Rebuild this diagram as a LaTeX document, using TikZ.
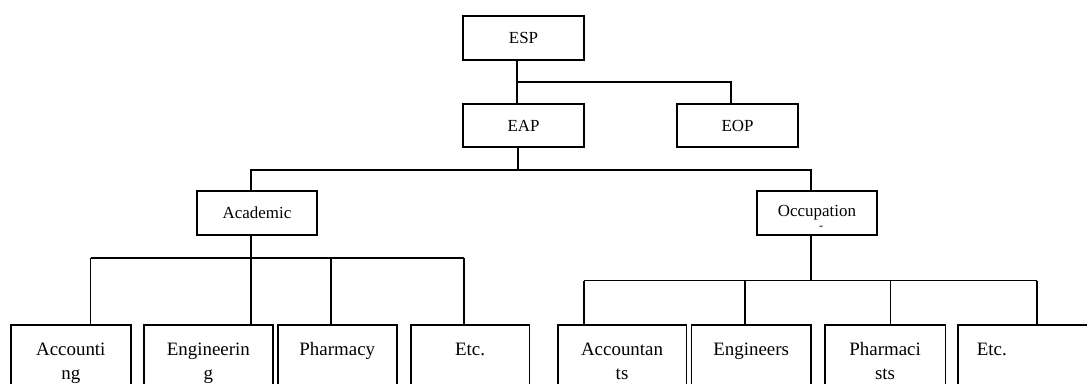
\documentclass[tikz,border=0pt]{standalone}
\usepackage{fontspec}
\setmainfont{Liberation Serif}
\begin{document}
\begin{tikzpicture}[x=1bp,y=-1bp,line width=1.6bp,
  topbox/.style={draw,rectangle,inner sep=0pt,font=\fontsize{17}{20}\selectfont},
  leafbox/.style={draw,rectangle,inner sep=0pt,anchor=north west,font=\fontsize{19}{23.5}\selectfont}]
\useasboundingbox (0,0) rectangle (1087,383);
\clip (0,0) rectangle (1087,383);

% upper levels
\node[topbox,minimum width=121bp,minimum height=44bp] (esp) at (523.5,38) {ESP};
\node[topbox,minimum width=121bp,minimum height=43bp] (eap) at (523.5,125.5) {EAP};
\node[topbox,minimum width=121bp,minimum height=43bp] (eop) at (737.5,125.5) {EOP};
\node[topbox,minimum width=120bp,minimum height=44bp] (aca) at (257,213) {Academic};
\node[topbox,minimum width=120bp,minimum height=44bp] (occ) at (817,213) {Occupation};
% small stray dash under the Occupation label
\node[inner sep=0pt,text height=1bp,text depth=0pt,font=\fontsize{12}{12}\selectfont] (occmark) at (821,229) {-};

% leaves, academic side
\node[leafbox] (acc) at (10,324) {\parbox[t][80bp][t]{120bp}{\centering\rule{0pt}{31bp}Accounti\\ng}};
\node[leafbox] (eng) at (143,324) {\parbox[t][80bp][t]{129bp}{\centering\rule{0pt}{31bp}Engineerin\\g}};
\node[leafbox] (pha) at (277,324) {\parbox[t][80bp][t]{119bp}{\centering\rule{0pt}{31bp}Pharmacy}};
\node[leafbox] (etca) at (410,324) {\parbox[t][80bp][t]{118.5bp}{\centering\rule{0pt}{31bp}Etc.}};

% leaves, occupation side
\node[leafbox] (acct) at (557,324) {\parbox[t][80bp][t]{128.5bp}{\centering\rule{0pt}{31bp}Accountan\\ts}};
\node[leafbox] (engr) at (690.7,324) {\parbox[t][80bp][t]{119.3bp}{\centering\rule{0pt}{31bp}Engineers}};
\node[leafbox] (phst) at (824,324) {\parbox[t][80bp][t]{120.6bp}{\centering\rule{0pt}{31bp}Pharmaci\\sts}};
\node[leafbox] (etcb) at (957,324) {\parbox[t][80bp][t]{150bp}{\raggedright\hspace*{19bp}\rule{0pt}{31bp}Etc.}};

% branch points
\coordinate (b1) at (517,82);
\coordinate (b1r) at (731,82);
\coordinate (b2) at (518,170);
\coordinate (b2l) at (251,170);
\coordinate (b2r) at (811,170);
\coordinate (b3) at (251,258);
\coordinate (b3a) at (90.6,258);
\coordinate (b3b) at (331,258);
\coordinate (b3c) at (464,258);
\coordinate (b4) at (811,280.5);
\coordinate (b4a) at (584,280.5);
\coordinate (b4b) at (745,280.5);
\coordinate (b4c) at (890.5,280.5);
\coordinate (b4d) at (1037,280.5);

% ESP -> EAP, EOP
\draw (esp.south -| b1) -- (eap.north -| b1);
\draw (b1) -- (b1r) -- (eop.north -| b1r);

% EAP -> Academic, Occupation
\draw (eap.south -| b2) -- (b2);
\draw (aca.north -| b2l) -- (b2l) -- (b2r) -- (occ.north -| b2r);

% Academic -> subjects
\draw (aca.south -| b3) -- (acc.north -| b3);
\draw (b3a) -- (b3c);
\draw (b3a) -- (acc.north -| b3a);
\draw (b3b) -- (pha.north -| b3b);
\draw (b3c) -- (etca.north -| b3c);

% Occupation -> professions
\draw (occ.south -| b4) -- (b4);
\draw (b4a) -- (b4d);
\draw (b4a) -- (acct.north -| b4a);
\draw (b4b) -- (engr.north -| b4b);
\draw (b4c) -- (phst.north -| b4c);
\draw (b4d) -- (etcb.north -| b4d);
\end{tikzpicture}
\end{document}
